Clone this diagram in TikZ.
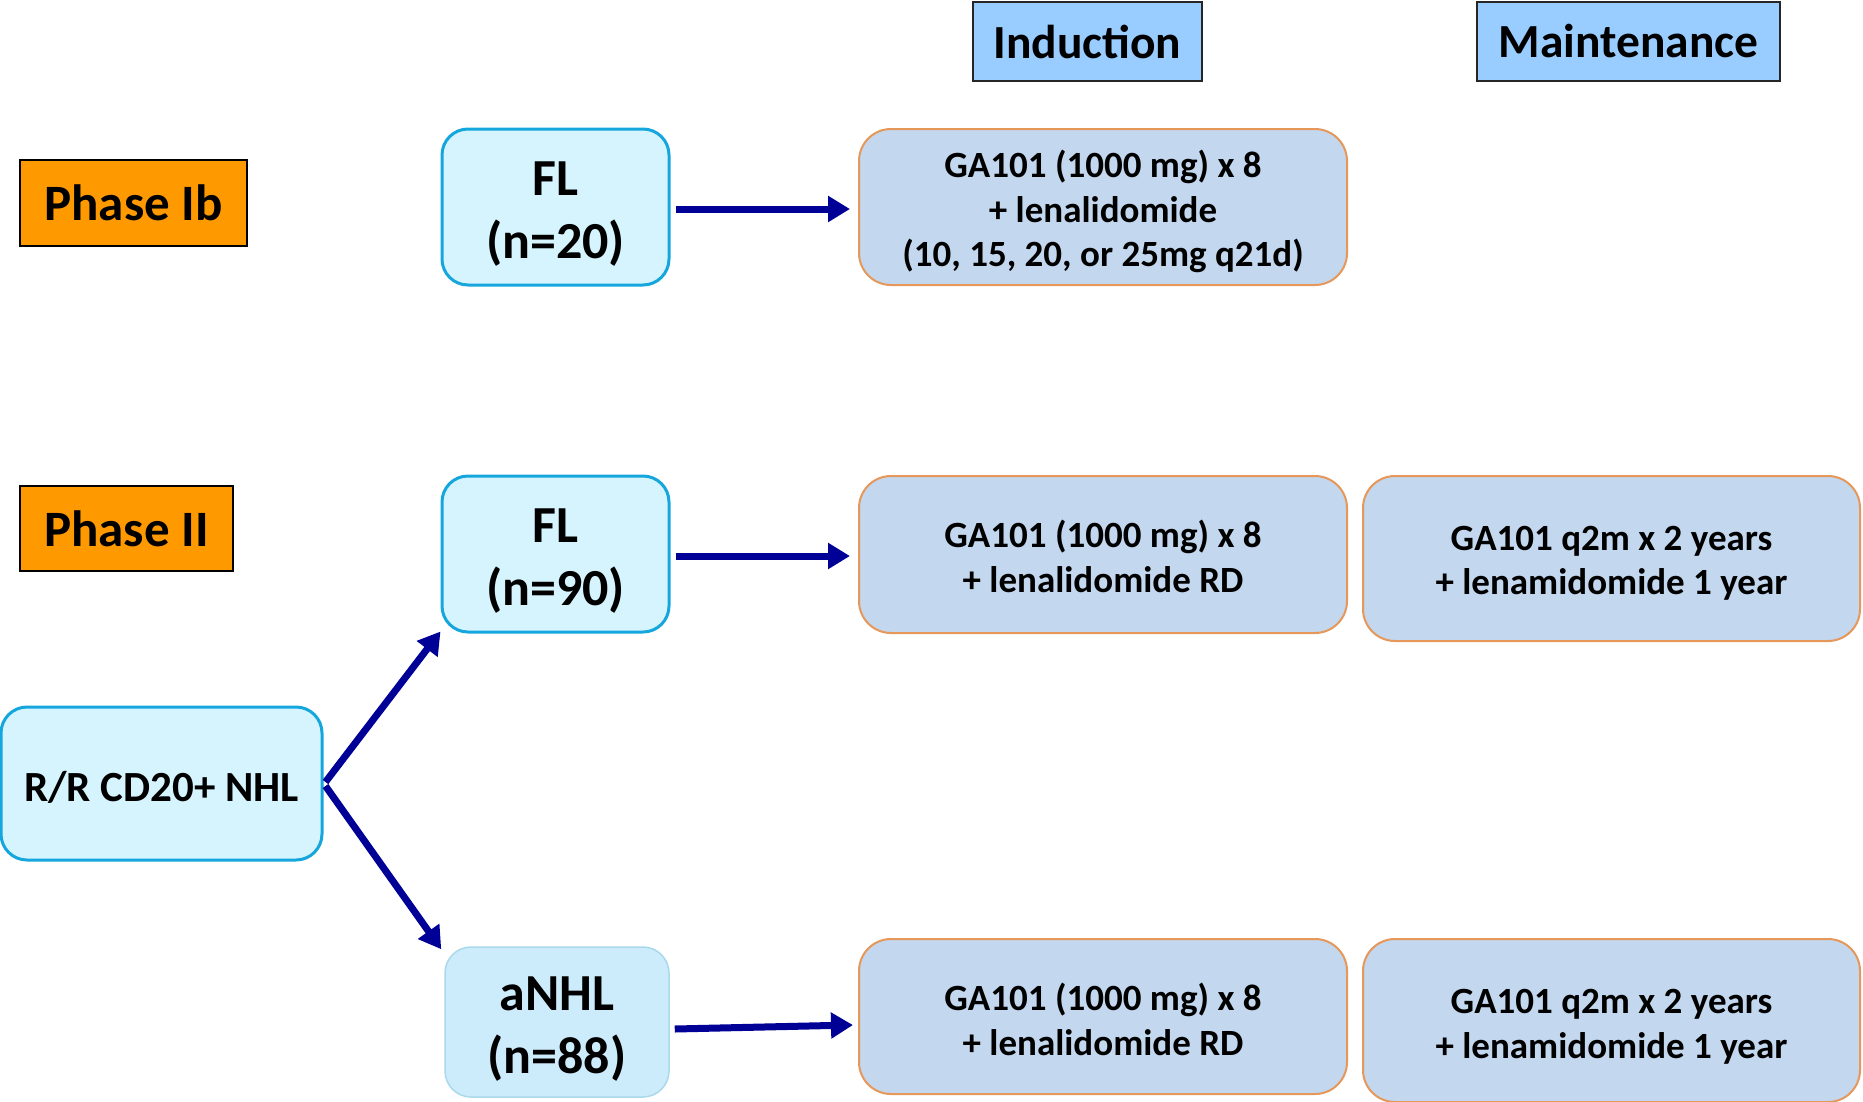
\documentclass[tikz,border=0pt]{standalone}
\usepackage{fontspec}
\setmainfont{Carlito}
\usetikzlibrary{arrows.meta}

\definecolor{phaseorange}{HTML}{FF9900}
\definecolor{headblue}{HTML}{99CCFF}
\definecolor{popfill}{HTML}{D5F4FD}
\definecolor{popedge}{HTML}{16A6DE}
\definecolor{anhlfill}{HTML}{CCEBFB}
\definecolor{anhledge}{HTML}{A9D9EA}
\definecolor{regfill}{HTML}{C3D7EE}
\definecolor{regedge}{HTML}{E6975A}
\definecolor{flownavy}{HTML}{000096}

% centred lines of text, with extra room (#1) above them to lower them in the box
\newcommand\boxlines[2]{\raisebox{0pt}[\dimexpr\height+#1\relax][\depth]{%
  \begin{tabular}{@{}c@{}}#2\end{tabular}}}

\tikzset{
  box/.style={inner sep=0pt, align=center, font=\bfseries},
  phasebox/.style={box, draw=black, line width=2pt, fill=phaseorange,
    font=\fontsize{51}{60}\selectfont\bfseries},
  headbox/.style={box, draw=black!85, line width=2pt, fill=headblue,
    font=\fontsize{47.5}{56}\selectfont\bfseries},
  popbox/.style={box, draw=popedge, line width=3pt, fill=popfill,
    rounded corners=26pt, font=\fontsize{52}{63}\selectfont\bfseries},
  anhlbox/.style={box, draw=anhledge, line width=1.5pt, fill=anhlfill,
    rounded corners=26pt, font=\fontsize{52}{63}\selectfont\bfseries},
  regbox/.style={box, draw=regedge, line width=2pt, fill=regfill,
    rounded corners=32pt, font=\fontsize{37}{44.5}\selectfont\bfseries},
  flow/.style={draw=flownavy, line width=7pt,
    -{Triangle[length=22pt,width=25pt]}}
}

\begin{document}
\begin{tikzpicture}[x=1pt, y=-1pt]
  \useasboundingbox (0,0) rectangle (1863,1101);

  % column headers
  \node[headbox, minimum width=229pt, minimum height=79pt] (hind) at (1087.5,41.5) {Induction};
  \node[headbox, minimum width=303pt, minimum height=79pt] (hmaint) at (1628.5,41.5) {Maintenance};

  % phase labels
  \node[phasebox, minimum width=227pt, minimum height=86pt] (ph1) at (133.5,203) {Phase Ib};
  \node[phasebox, minimum width=213pt, minimum height=85pt] (ph2) at (126.5,528.5) {Phase II};

  % Phase Ib arm
  \node[popbox, minimum width=227pt, minimum height=156pt] (fl1) at (555.5,207)
    {\boxlines{14pt}{FL\\(n=20)}};
  \node[regbox, minimum width=488pt, minimum height=156pt] (ind1) at (1103,207)
    {\boxlines{13pt}{GA101 (1000 mg) x 8\\+ lenalidomide\\(10, 15, 20, or 25mg q21d)}};

  % Phase II arms
  \node[popbox, minimum width=321pt, minimum height=153pt,
        font=\fontsize{43}{52}\selectfont\bfseries] (rr) at (161.5,783.5)
    {\boxlines{15pt}{R/R CD20+ NHL}};

  \node[popbox, minimum width=227pt, minimum height=156pt] (fl2) at (555.5,554)
    {\boxlines{14pt}{FL\\(n=90)}};
  \node[regbox, minimum width=488pt, minimum height=157pt] (ind2) at (1103,554.5)
    {\boxlines{13pt}{GA101 (1000 mg) x 8\\+ lenalidomide RD}};
  \node[regbox, minimum width=497pt, minimum height=165pt] (mt2) at (1611.5,558.5)
    {\boxlines{10pt}{GA101 q2m x 2 years\\+ lenamidomide 1 year}};

  \node[anhlbox, minimum width=224pt, minimum height=150pt] (anhl) at (557,1022)
    {\boxlines{15pt}{aNHL\\(n=88)}};
  \node[regbox, minimum width=488pt, minimum height=155pt] (ind3) at (1103,1016.5)
    {\boxlines{15pt}{GA101 (1000 mg) x 8\\+ lenalidomide RD}};
  \node[regbox, minimum width=497pt, minimum height=163pt] (mt3) at (1611.5,1020.5)
    {\boxlines{13pt}{GA101 q2m x 2 years\\+ lenamidomide 1 year}};

  % connectors
  \draw[flow] ([xshift=5pt,yshift=-2pt]fl1.east) -- ([xshift=-8pt,yshift=-2pt]ind1.west);
  \draw[flow] ([xshift=5pt,yshift=-2pt]fl2.east) -- ([xshift=-8pt,yshift=-1.5pt]ind2.west);
  \draw[flow] ([xshift=5pt,yshift=-7pt]anhl.east) -- ([xshift=-5pt,yshift=-8.5pt]ind3.west);
  \draw[flow] ([xshift=2pt,yshift=1.5pt]rr.east) -- ([yshift=2pt]fl2.south west);
  \draw[flow] ([xshift=2pt,yshift=-2.5pt]rr.east) -- ([xshift=-3pt,yshift=-3pt]anhl.north west);
\end{tikzpicture}
\end{document}
